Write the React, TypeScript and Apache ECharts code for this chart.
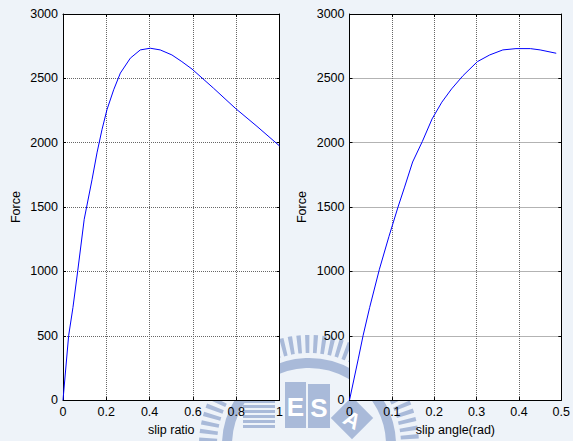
import React, { useEffect, useRef } from "react";
import * as echarts from "echarts";

const slipRatio = [0, 0.026, 0.046, 0.068, 0.098, 0.134, 0.157, 0.18, 0.203, 0.234, 0.265, 0.311, 0.357, 0.403, 0.449, 0.503, 0.549, 0.596, 0.695, 0.795, 0.896, 1.0];
const forceLong = [0, 500, 720, 1004, 1405, 1712, 1921, 2101, 2256, 2411, 2541, 2657, 2721, 2734, 2721, 2682, 2630, 2572, 2424, 2269, 2127, 1975];

const slipAngle = [0, 0.0207, 0.032, 0.0476, 0.0706, 0.093, 0.1145, 0.13, 0.149, 0.172, 0.195, 0.218, 0.241, 0.268, 0.302, 0.331, 0.362, 0.393, 0.427, 0.45, 0.488];
const forceLat = [0, 320, 500, 720, 1017, 1270, 1500, 1655, 1850, 2010, 2185, 2315, 2418, 2521, 2630, 2682, 2721, 2731, 2731, 2721, 2695];

const xTicksLeft = [0, 0.2, 0.4, 0.6, 0.8, 1];
const xTicksRight = [0, 0.1, 0.2, 0.3, 0.4, 0.5];
const yTicks = [0, 500, 1000, 1500, 2000, 2500, 3000];

const xNames = ["slip ratio", "slip angle(rad)"];
const yName = "Force";

const FONT = "Liberation Sans, Arial, sans-serif";
const WM = "#a9bad9";

export default function App() {
  const ref = useRef<HTMLDivElement>(null);
  useEffect(() => {
    if (!ref.current) return;
    const chart = echarts.init(ref.current, null, { renderer: "svg" });

    const grids = [
      { left: 63, top: 14, width: 216.5, height: 387 },
      { left: 349.5, top: 14, width: 217, height: 387 },
    ];
    const xTickSets = [xTicksLeft, xTicksRight];

    const xAxes: any[] = [];
    const yAxes: any[] = [];
    [0, 1].forEach((g) => {
      const ticks = xTickSets[g];
      const xmin = ticks[0];
      const xmax = ticks[ticks.length - 1];
      const xint = ticks[1] - ticks[0];
      xAxes.push({
        type: "value",
        gridIndex: g,
        min: xmin,
        max: xmax,
        interval: xint,
        position: "bottom",
        name: xNames[g],
        nameLocation: "middle",
        nameGap: 21,
        nameTextStyle: { fontFamily: FONT, fontSize: 12.5, color: "#000" },
        axisLine: { show: true, onZero: false, lineStyle: { color: "#000", width: 1 } },
        axisTick: { show: true, inside: true, length: 3, lineStyle: { color: "#000" } },
        axisLabel: {
          show: true,
          margin: 5,
          fontFamily: FONT,
          fontSize: 12.5,
          color: "#000",
          formatter: (v: number) => String(Math.round(v * 10) / 10),
        },
        splitLine: { show: true, lineStyle: { color: "#666", type: [1, 1], width: 1 } },
      });
      xAxes.push({
        type: "value",
        gridIndex: g,
        min: xmin,
        max: xmax,
        interval: xint,
        position: "top",
        axisLine: { show: true, onZero: false, lineStyle: { color: "#000", width: 1 } },
        axisTick: { show: true, inside: true, length: 3, lineStyle: { color: "#000" } },
        axisLabel: { show: false },
        splitLine: { show: false },
      });
      yAxes.push({
        type: "value",
        gridIndex: g,
        min: yTicks[0],
        max: yTicks[yTicks.length - 1],
        interval: yTicks[1] - yTicks[0],
        position: "left",
        name: yName,
        nameLocation: "middle",
        nameGap: 41,
        nameRotate: 90,
        nameTextStyle: { fontFamily: FONT, fontSize: 12.5, color: "#000" },
        axisLine: { show: true, onZero: false, lineStyle: { color: "#000", width: 1 } },
        axisTick: { show: true, inside: true, length: 3, lineStyle: { color: "#000" } },
        axisLabel: {
          show: true,
          margin: 5,
          fontFamily: FONT,
          fontSize: 12.5,
          color: "#000",
          formatter: (v: number) => String(v),
        },
        splitLine: { show: true, lineStyle: { color: "#666", type: [1, 1], width: 1 } },
      });
      yAxes.push({
        type: "value",
        gridIndex: g,
        min: yTicks[0],
        max: yTicks[yTicks.length - 1],
        interval: yTicks[1] - yTicks[0],
        position: "right",
        axisLine: { show: true, onZero: false, lineStyle: { color: "#000", width: 1 } },
        axisTick: { show: true, inside: true, length: 3, lineStyle: { color: "#000" } },
        axisLabel: { show: false },
        splitLine: { show: false },
      });
    });

    const stripes: any[] = [];
    for (let i = 0; i < 8; i++) {
      stripes.push({
        type: "rect",
        z: -9,
        shape: { x: 243, y: 390 + i * 5, width: 32, height: 3 },
        style: { fill: WM },
      });
    }

    const option: any = {
      animation: false,
      backgroundColor: "#eef3f9",
      grid: grids.map((g) => ({ ...g, show: true, backgroundColor: "#fff", borderWidth: 0 })),
      xAxis: xAxes,
      yAxis: yAxes,
      graphic: [
        {
          type: "arc",
          z: -10,
          shape: { cx: 309, cy: 445, r: 101, startAngle: 0, endAngle: Math.PI * 2 },
          style: { stroke: WM, lineWidth: 18, fill: null, lineDash: [4, 4] },
        },
        {
          type: "arc",
          z: -10,
          shape: { cx: 309, cy: 445, r: 82, startAngle: 0, endAngle: Math.PI * 2 },
          style: { stroke: WM, lineWidth: 10, fill: null },
        },
        ...stripes,
        {
          type: "rect",
          z: -9,
          shape: { x: 285, y: 382, width: 21, height: 46 },
          style: { fill: WM },
        },
        {
          type: "text",
          z: -8,
          x: 295.5,
          y: 407,
          style: { text: "E", fill: "#fff", font: "bold 26px Liberation Sans", align: "center", verticalAlign: "middle" },
        },
        {
          type: "rect",
          z: -9,
          shape: { x: 308, y: 384, width: 22, height: 44 },
          style: { fill: WM },
        },
        {
          type: "text",
          z: -8,
          x: 319,
          y: 408,
          style: { text: "S", fill: "#fff", font: "bold 26px Liberation Sans", align: "center", verticalAlign: "middle" },
        },
        {
          type: "rect",
          z: -9,
          x: 352,
          y: 418,
          originX: 0,
          originY: 0,
          rotation: Math.PI / 4,
          shape: { x: -15, y: -15, width: 30, height: 30 },
          style: { fill: WM },
        },
        {
          type: "text",
          z: -8,
          x: 352,
          y: 420,
          rotation: -Math.PI / 6,
          style: { text: "A", fill: "#fff", font: "bold 22px Liberation Sans", align: "center", verticalAlign: "middle" },
        },
      ],
      series: [
        {
          type: "line",
          xAxisIndex: 0,
          yAxisIndex: 0,
          data: slipRatio.map((x, i) => [x, forceLong[i]]),
          showSymbol: false,
          symbol: "none",
          lineStyle: { color: "#0000ff", width: 1 },
        },
        {
          type: "line",
          xAxisIndex: 2,
          yAxisIndex: 2,
          data: slipAngle.map((x, i) => [x, forceLat[i]]),
          showSymbol: false,
          symbol: "none",
          lineStyle: { color: "#0000ff", width: 1 },
        },
      ],
    };
    chart.setOption(option);
    return () => chart.dispose();
  }, []);

  return (
    <div
      ref={ref}
      style={{ position: "absolute", left: 0, top: 0, width: 573, height: 441 }}
    />
  );
}
